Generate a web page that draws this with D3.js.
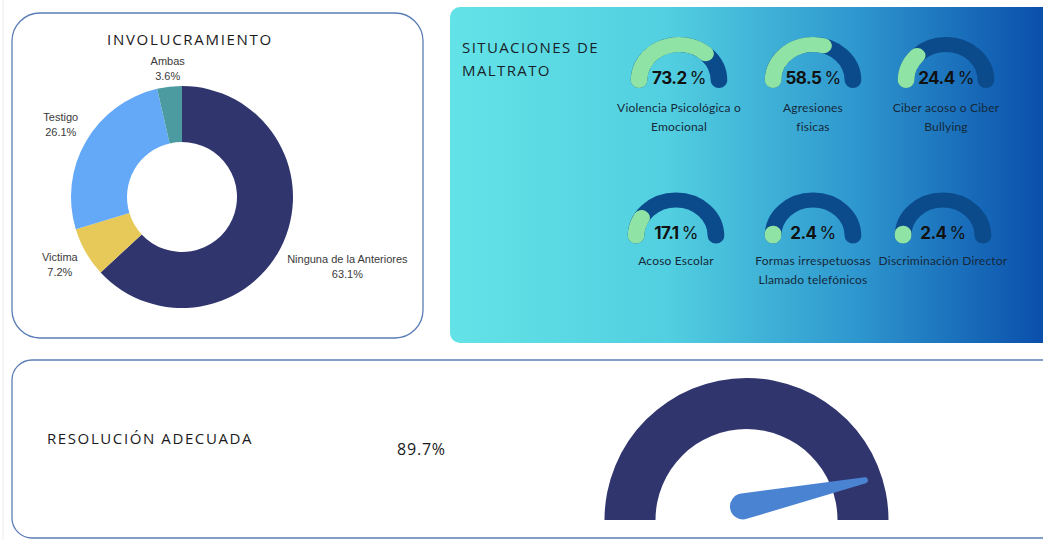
<!DOCTYPE html>
<html>
<head>
<meta charset="utf-8">
<script src="https://cdn.jsdelivr.net/npm/d3@7"></script>
<style>
  html, body { margin: 0; padding: 0; background: #ffffff; }
  svg { display: block; }
</style>
</head>
<body>
<svg id="chart" width="1043" height="540"></svg>
<script>
// ---------------- DATA ----------------
const involCategories = ["Ninguna de la Anteriores", "Victima", "Testigo", "Ambas"];
const involValues = [63.1, 7.2, 26.1, 3.6];
const involColors = ["#31356e", "#e7c95a", "#64a8f8", "#4b9ba0"];

const maltratoLabels = [
  ["Violencia Psicológica o", "Emocional"],
  ["Agresiones", "fisicas"],
  ["Ciber acoso o Ciber", "Bullying"],
  ["Acoso Escolar"],
  ["Formas irrespetuosas", "Llamado telefónicos"],
  ["Discriminación Director"]
];
const maltratoValues = [73.2, 58.5, 24.4, 17.1, 2.4, 2.4];

const resolucionLabel = "RESOLUCIÓN ADECUADA";
const resolucionValue = 89.7;

// ---------------- LAYOUT ----------------
const svg = d3.select("#chart");
const defs = svg.append("defs");

// faint page edge
svg.append("line").attr("x1", 3).attr("x2", 3).attr("y1", 0).attr("y2", 540)
  .attr("stroke", "#ececec").attr("stroke-width", 1);

// ---------- Panel 1: INVOLUCRAMIENTO ----------
svg.append("rect").attr("x", 12).attr("y", 13).attr("width", 411).attr("height", 325)
  .attr("rx", 28).attr("fill", "#ffffff").attr("stroke", "#5a7db6").attr("stroke-width", 1.3);

svg.append("text").attr("x", 190).attr("y", 45).attr("text-anchor", "middle")
  .attr("font-family", "'Open Sans', sans-serif").attr("font-size", 15)
  .attr("letter-spacing", "1.7px").attr("fill", "#1a1a1a")
  .text("INVOLUCRAMIENTO");

const donutC = { x: 182, y: 197 };
const pie = d3.pie().sort(null).value(d => d.v);
const involData = involCategories.map((c, i) => ({ c, v: involValues[i], color: involColors[i] }));
const arcs = pie(involData);
const donutArc = d3.arc().innerRadius(55).outerRadius(111);

const gD = svg.append("g").attr("transform", `translate(${donutC.x},${donutC.y})`);
gD.selectAll("path").data(arcs).join("path")
  .attr("d", donutArc).attr("fill", d => d.data.color);

const fmtPct = d3.format(".1f");
gD.selectAll("text.lbl").data(arcs).join("text")
  .attr("class", "lbl")
  .attr("font-family", "'Liberation Sans', Arial, sans-serif").attr("font-size", 11)
  .attr("fill", "#3a3a3a").attr("text-anchor", "middle")
  .each(function(d) {
    const t = d3.select(this);
    t.append("tspan").attr("x", 0).text(d.data.c);
    t.append("tspan").attr("x", 0).text(fmtPct(d.data.v) + "%");
    const w = this.getBBox().width;
    const a = (d.startAngle + d.endAngle) / 2;
    const r = 125 + (w / 2) * Math.abs(Math.sin(a));
    const px = r * Math.sin(a), py = -r * Math.cos(a);
    t.selectAll("tspan").attr("x", px);
    t.select("tspan:nth-child(1)").attr("y", py - 6);
    t.select("tspan:nth-child(2)").attr("y", py + 9);
  });

// ---------- Panel 2: SITUACIONES DE MALTRATO ----------
const grad = defs.append("linearGradient").attr("id", "gradM")
  .attr("x1", "0%").attr("x2", "100%").attr("y1", "0%").attr("y2", "0%");
grad.append("stop").attr("offset", "0%").attr("stop-color", "#63e3e7");
grad.append("stop").attr("offset", "35%").attr("stop-color", "#52cfe0");
grad.append("stop").attr("offset", "65%").attr("stop-color", "#2f98cf");
grad.append("stop").attr("offset", "100%").attr("stop-color", "#0545a6");

svg.append("rect").attr("x", 450).attr("y", 7).attr("width", 620).attr("height", 336)
  .attr("rx", 10).attr("fill", "url(#gradM)");

const titleM = svg.append("text").attr("font-family", "'Open Sans', sans-serif")
  .attr("font-size", 15).attr("letter-spacing", "1.4px").attr("fill", "#1a1f2a");
titleM.append("tspan").attr("x", 462).attr("y", 53).text("SITUACIONES DE");
titleM.append("tspan").attr("x", 462).attr("y", 76).text("MALTRATO");

const gaugeCenters = [
  { x: 679, y: 80.5 }, { x: 813, y: 80.5 }, { x: 946, y: 80.5 },
  { x: 676, y: 236 }, { x: 813, y: 236 }, { x: 943, y: 236 }
];
const gR = 36, gW = 15, gSx = 1.11;
const gAngle = d3.scaleLinear().domain([0, 100]).range([Math.PI, 2 * Math.PI]);

maltratoValues.forEach((v, i) => {
  const c = gaugeCenters[i];
  const g = svg.append("g").attr("transform", `translate(${c.x},${c.y})`);
  const ga = g.append("g").attr("transform", `scale(${gSx},1)`);
  const track = d3.path(); track.arc(0, 0, gR, gAngle(0), gAngle(100), false);
  ga.append("path").attr("d", track.toString()).attr("fill", "none")
    .attr("stroke", "#0b4a8b").attr("stroke-width", gW).attr("stroke-linecap", "round");
  const val = d3.path(); val.arc(0, 0, gR, gAngle(0), gAngle(v), false);
  ga.append("path").attr("d", val.toString()).attr("fill", "none")
    .attr("stroke", "#8fe4a5").attr("stroke-width", gW).attr("stroke-linecap", "round");

  const pt = g.append("text").attr("x", 0).attr("y", 3).attr("text-anchor", "middle")
    .attr("font-family", "Inter, 'Noto Sans', sans-serif").attr("font-size", 17)
    .attr("letter-spacing", "-0.5px").attr("fill", "#111");
  pt.append("tspan").attr("font-weight", 700).text(fmtPct(v));
  pt.append("tspan").attr("font-weight", 400).attr("dx", 3).text("%");

  const lt = g.append("text").attr("text-anchor", "middle")
    .attr("font-family", "Lato, 'Open Sans', sans-serif").attr("font-size", 12)
    .attr("letter-spacing", "0.2px").attr("fill", "#15293a");
  const base = i < 3 ? 31 : 29;
  maltratoLabels[i].forEach((line, j) => {
    lt.append("tspan").attr("x", 0).attr("y", base + j * 19).text(line);
  });
});

// ---------- Panel 3: RESOLUCIÓN ADECUADA ----------
svg.append("rect").attr("x", 12).attr("y", 360).attr("width", 1100).attr("height", 178)
  .attr("rx", 20).attr("fill", "#ffffff").attr("stroke", "#5a7db6").attr("stroke-width", 1.3);

svg.append("text").attr("x", 47).attr("y", 444)
  .attr("font-family", "'Open Sans', sans-serif").attr("font-size", 15)
  .attr("letter-spacing", "1.6px").attr("fill", "#1a1a1a").text(resolucionLabel);

svg.append("text").attr("x", 397).attr("y", 455)
  .attr("font-family", "'Open Sans', sans-serif").attr("font-size", 16)
  .attr("letter-spacing", "0.8px").attr("fill", "#1a1a1a").text(fmtPct(resolucionValue) + "%");

const bigC = { x: 746.5, y: 520 };
const needleAngle = d3.scaleLinear().domain([0, 100]).range([-Math.PI / 2, Math.PI / 2]);
const bigArc = d3.arc().innerRadius(91).outerRadius(142)
  .startAngle(needleAngle(0)).endAngle(needleAngle(100));
svg.append("path").attr("transform", `translate(${bigC.x},${bigC.y})`)
  .attr("d", bigArc()).attr("fill", "#31356e");

// needle
(function() {
  const a = needleAngle(resolucionValue);
  const dir = [Math.sin(a), -Math.cos(a)];
  const perp = [dir[1], -dir[0]];
  const B = [bigC.x + 1 * dir[0] + 14 * perp[0], bigC.y + 1 * dir[1] + 14 * perp[1]];
  const T = [bigC.x + 125 * dir[0], bigC.y + 125 * dir[1]];
  const R1 = 13, R2 = 3;
  const d = [T[0] - B[0], T[1] - B[1]];
  const L = Math.hypot(d[0], d[1]);
  const dh = [d[0] / L, d[1] / L];
  const phi = Math.acos((R1 - R2) / L);
  const rot = (v, t) => [v[0] * Math.cos(t) - v[1] * Math.sin(t), v[0] * Math.sin(t) + v[1] * Math.cos(t)];
  const n1 = rot(dh, phi), n2 = rot(dh, -phi);
  const P1 = [B[0] + R1 * n1[0], B[1] + R1 * n1[1]];
  const Q1 = [T[0] + R2 * n1[0], T[1] + R2 * n1[1]];
  const P2 = [B[0] + R1 * n2[0], B[1] + R1 * n2[1]];
  const Q2 = [T[0] + R2 * n2[0], T[1] + R2 * n2[1]];
  const path = `M${P1}L${Q1}A${R2},${R2} 0 0 0 ${Q2}L${P2}A${R1},${R1} 0 1 0 ${P1}Z`;
  svg.append("path").attr("d", path).attr("fill", "#4a83d2");
})();
</script>
</body>
</html>
